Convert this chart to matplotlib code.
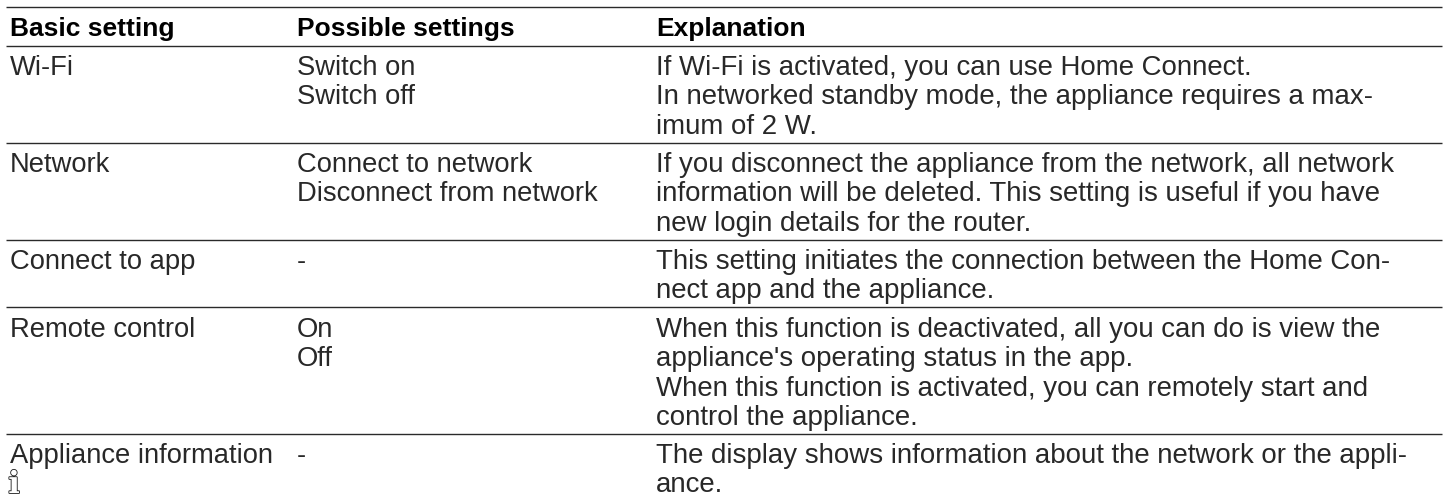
import matplotlib
matplotlib.use("Agg")
import matplotlib.pyplot as plt
import matplotlib.patheffects as pe

plt.rcParams["font.family"] = ["Liberation Sans", "DejaVu Sans"]

# ---------------- CONTENIDO ----------------
headers = ["Basic setting", "Possible settings", "Explanation"]
col_basic = ["Wi-Fi", "Network", "Connect to app", "Remote control", "Appliance information"]
col_possible = [
    ["Switch on", "Switch off"],
    ["Connect to network", "Disconnect from network"],
    ["-"],
    ["On", "Off"],
    ["-"],
]
col_explain = [
    ["If Wi-Fi is activated, you can use Home Connect.",
     "In networked standby mode, the appliance requires a max-",
     "imum of 2 W."],
    ["If you disconnect the appliance from the network, all network",
     "information will be deleted. This setting is useful if you have",
     "new login details for the router."],
    ["This setting initiates the connection between the Home Con-",
     "nect app and the appliance."],
    ["When this function is deactivated, all you can do is view the",
     "appliance's operating status in the app.",
     "When this function is activated, you can remotely start and",
     "control the appliance."],
    ["The display shows information about the network or the appli-",
     "ance."],
]

# ---------------- LAYOUT (pixeles) ----------------
X_COLS = [10, 297, 656]
X_LINE = (6, 1442)
Y_HEADER = 36
Y_LINES = [7, 46, 143, 240, 307, 434]
Y_ROWS = [75, 172, 269, 337, 463]
LINE_H = 29.3
FS = 19.7
FS_EXPL = 19.9
FS_HEAD = 19.0
COLOR = "#282828"

fig = plt.figure(figsize=(14.46, 4.99), dpi=100)
ax = fig.add_axes([0, 0, 1, 1])
ax.set_xlim(0, 1446)
ax.set_ylim(499, 0)
ax.axis("off")

for y in Y_LINES:
    ax.plot(X_LINE, [y, y], color="#2a2a2a", lw=1.0, solid_capstyle="butt")

for x, h in zip(X_COLS, headers):
    ax.text(x, Y_HEADER, h, fontsize=FS_HEAD, fontweight="bold", color="black", va="baseline")

for i, y in enumerate(Y_ROWS):
    ax.text(X_COLS[0], y, col_basic[i], fontsize=FS, color=COLOR, va="baseline")
    for j, t in enumerate(col_possible[i]):
        ax.text(X_COLS[1], y + j * LINE_H, t, fontsize=FS, color=COLOR, va="baseline")
    for j, t in enumerate(col_explain[i]):
        ax.text(X_COLS[2], y + j * LINE_H, t, fontsize=FS_EXPL, color=COLOR, va="baseline")

# icono de informacion, letra contorneada
icon = ax.text(14, 493, "i", fontsize=22, family="DejaVu Serif", fontweight="bold",
               color="white", va="baseline", ha="center")
icon.set_path_effects([pe.Stroke(linewidth=1.2, foreground="#1a1a1a"), pe.Normal()])

fig.savefig("out.png", dpi=100)
